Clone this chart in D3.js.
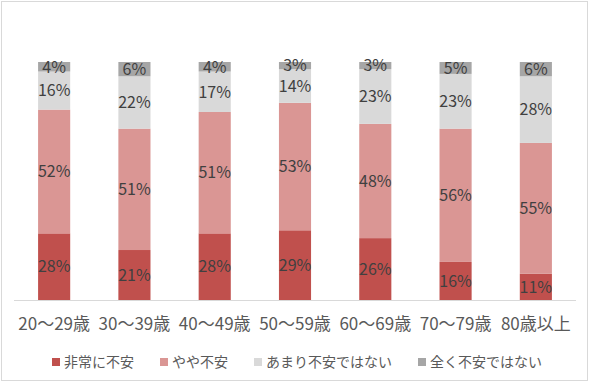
<!DOCTYPE html>
<html>
<head>
<meta charset="utf-8">
<script src="https://cdn.jsdelivr.net/npm/d3@7"></script>
<style>
html,body{margin:0;padding:0;background:#fff;}
svg{display:block;}
text{font-family:"Noto Sans CJK JP","Noto Sans",sans-serif;}
</style>
</head>
<body>
<svg id="chart" width="590" height="383"></svg>
<script>
const categories = ["20～29歳","30～39歳","40～49歳","50～59歳","60～69歳","70～79歳","80歳以上"];
const seriesNames = ["非常に不安","やや不安","あまり不安ではない","全く不安ではない"];
const verySerious = [28,21,28,29,26,16,11];
const somewhat = [52,51,51,53,48,56,55];
const notMuch = [16,22,17,14,23,23,28];
const notAtAll = [4,6,4,3,3,5,6];
const colors = ["#C0504D","#DA9694","#D9D9D9","#A6A6A6"];

const seriesValues = [verySerious, somewhat, notMuch, notAtAll];
const table = categories.map((c,i)=>{
  const row = {cat:c};
  seriesNames.forEach((s,j)=>row[s]=seriesValues[j][i]);
  return row;
});

const svg = d3.select("#chart");
svg.append("rect").attr("x",1.5).attr("y",1.5).attr("width",586).attr("height",379)
  .attr("fill","#fff").attr("stroke","#d9d9d9").attr("stroke-width",1);

const x = d3.scaleBand().domain(categories).range([14,576]).paddingInner(0.6).paddingOuter(0.3);
const y = d3.scaleLinear().domain([0,1]).range([300,62]);

const stack = d3.stack().keys(seriesNames).offset(d3.stackOffsetExpand);
const stacked = stack(table);

const g = svg.append("g");
stacked.forEach((layer,j)=>{
  g.selectAll(null).data(layer).enter().append("rect")
    .attr("x",d=>x(d.data.cat))
    .attr("width",x.bandwidth())
    .attr("y",d=>y(d[1]))
    .attr("height",d=>y(d[0])-y(d[1]))
    .attr("fill",colors[j]);
});
stacked.forEach((layer,j)=>{
  g.selectAll(null).data(layer).enter().append("text")
    .attr("x",d=>x(d.data.cat)+x.bandwidth()/2)
    .attr("y",d=>(y(d[0])+y(d[1]))/2)
    .attr("dy","0.36em")
    .attr("text-anchor","middle")
    .attr("font-size",16)
    .attr("fill","#404040")
    .text(d=>d.data[layer.key]+"%");
});

// axis
const axis = svg.append("g").attr("transform","translate(0,300)")
  .call(d3.axisBottom(x).tickSize(0).tickPadding(18));
axis.select(".domain").attr("stroke","#d9d9d9").attr("d","M14,0.5H576");
axis.selectAll("text").attr("font-size",17).attr("fill","#595959")
  .attr("font-family","'Noto Sans CJK JP',sans-serif");

// legend
const lg = svg.append("g");
const items = lg.selectAll("g").data(seriesNames).enter().append("g");
items.append("rect").attr("width",8).attr("height",8).attr("y",-4)
  .attr("fill",(d,i)=>colors[i]);
items.append("text").attr("x",12).attr("dy","0.36em").attr("font-size",14)
  .attr("fill","#595959").text(d=>d);
const widths = [];
items.each(function(){ widths.push(this.getBBox().width); });
const gap = 26;
const total = d3.sum(widths) + gap*(widths.length-1);
let cx = 297 - total/2;
items.attr("transform",(d,i)=>{ const t = `translate(${cx},362)`; cx += widths[i]+gap; return t; });
</script>
</body>
</html>
